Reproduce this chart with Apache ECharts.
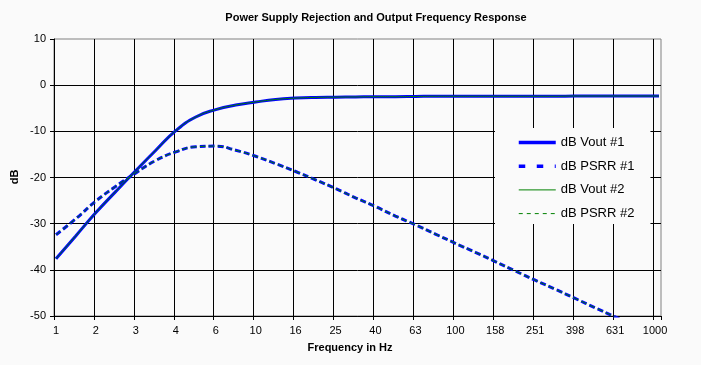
<!DOCTYPE html>
<html>
<head>
<meta charset="utf-8">
<script src="https://cdn.jsdelivr.net/npm/echarts@6/dist/echarts.min.js"></script>
<style>
html,body{margin:0;padding:0;background:#fafafa;}
#chart{width:701px;height:365px;}
</style>
</head>
<body>
<div id="chart"></div>
<script>
// ---- data ----
const tickLabels = ['1','2','3','4','6','10','16','25','40','63','100','158','251','398','631','1000'];
const binsPerDecade = 50;      // category bins of the Excel axis (10 per label step)
const binCount = 152;
const freqHz = [1, 1.26, 1.58, 2.00, 2.51, 3.16, 3.98, 5.01, 6.31, 7.94,
                10.0, 12.6, 15.8, 20.0, 25.1, 31.6, 39.8, 50.1, 63.1, 79.4,
                100, 126, 158, 200, 251, 316, 398, 501, 631, 794, 1000, 1047];
const voutDb1 = [-37.6, -32.6, -27.6, -23.0, -18.5, -14.1, -9.85, -6.9, -5.3, -4.3,
                 -3.65, -3.1, -2.8, -2.65, -2.6, -2.55, -2.5, -2.5, -2.45, -2.4,
                 -2.4, -2.4, -2.4, -2.4, -2.4, -2.4, -2.35, -2.35, -2.35, -2.35, -2.35, -2.35];
const psrrDb1 = [-32.4, -28.9, -25.1, -21.9, -19.0, -16.3, -14.45, -13.35, -13.2, -14.1,
                 -15.4, -17.0, -18.7, -20.5, -22.4, -24.4, -26.3, -28.35, -30.25, -32.25,
                 -34.25, -36.2, -38.2, -40.25, -42.25, -44.2, -46.2, -48.2, -50.2, -52.2, -54.2, -54.6];
const voutDb2 = [-37.6, -32.6, -27.6, -23.0, -18.5, -14.1, -9.85, -6.9, -5.3, -4.3,
                 -3.65, -3.1, -2.8, -2.65, -2.6, -2.55, -2.5, -2.5, -2.45, -2.4,
                 -2.4, -2.4, -2.4, -2.4, -2.4, -2.4, -2.35, -2.35, -2.35, -2.35, -2.35, -2.35];
const psrrDb2 = [-32.4, -28.9, -25.1, -21.9, -19.0, -16.3, -14.45, -13.35, -13.2, -14.1,
                 -15.4, -17.0, -18.7, -20.5, -22.4, -24.4, -26.3, -28.35, -30.25, -32.25,
                 -34.25, -36.2, -38.2, -40.25, -42.25, -44.2, -46.2, -48.2, -50.2, -52.2, -54.2, -54.6];
const seriesNames = ['dB Vout #1', 'dB PSRR #1', 'dB Vout #2', 'dB PSRR #2'];

// ---- build ----
const categories = Array.from({length: binCount}, (_, i) => i % 10 === 0 ? tickLabels[i / 10] : '');
const toPairs = vals => vals.map((v, i) => [Math.round(binsPerDecade * Math.log10(freqHz[i])), v]);

const FONT = '"Liberation Sans", Arial, sans-serif';
const BLUE = '#0000ff', GREEN = '#008000';

const chart = echarts.init(document.getElementById('chart'), null, {renderer: 'canvas'});
chart.setOption({
  backgroundColor: '#fafafa',
  animation: false,
  grid: {left: 54, top: 39, right: 40, bottom: 49, show: true, backgroundColor: '#fafafa',
         borderColor: '#808080', borderWidth: 1, containLabel: false},
  xAxis: {
    type: 'category', data: categories, boundaryGap: true,
    axisLine: {show: true, onZero: false, lineStyle: {color: '#000', width: 1}},
    axisTick: {show: true, interval: 9, length: 4, lineStyle: {color: '#000'}},
    axisLabel: {interval: 9, color: '#000', fontSize: 11, fontFamily: FONT, margin: 9},
    splitLine: {show: true, interval: 9, showMaxLine: false, lineStyle: {color: '#000', width: 1}}
  },
  yAxis: {
    type: 'value', min: -50, max: 10, interval: 10,
    axisLine: {show: true, lineStyle: {color: '#000', width: 1}},
    axisTick: {show: true, length: 4, lineStyle: {color: '#000'}},
    axisLabel: {color: '#000', fontSize: 11, fontFamily: FONT, margin: 8},
    splitLine: {show: true, showMaxLine: false, lineStyle: {color: '#000', width: 1}}
  },
  legend: {
    orient: 'vertical', left: 495, top: 128,
    padding: [8, 16, 4, 22],
    backgroundColor: '#fafafa',
    itemWidth: 37, itemHeight: 14, itemGap: 10.7,
    itemStyle: {color: 'rgba(0,0,0,0)', borderWidth: 0, borderColor: 'rgba(0,0,0,0)'},
    textStyle: {color: '#000', fontSize: 13, fontFamily: FONT},
    data: [
      {name: seriesNames[0], lineStyle: {color: BLUE, width: 3.5, type: 'solid'}},
      {name: seriesNames[1], lineStyle: {color: BLUE, width: 3.5, type: [6.5, 11.5]}},
      {name: seriesNames[2], lineStyle: {color: GREEN, width: 1, type: 'solid'}},
      {name: seriesNames[3], lineStyle: {color: GREEN, width: 1, type: [4, 4]}}
    ]
  },
  graphic: [
    {type: 'text', z: 10, style: {text: 'Power Supply Rejection and Output Frequency Response',
      x: 376, y: 18, align: 'center', verticalAlign: 'middle', font: 'bold 11px ' + FONT, fill: '#000'}},
    {type: 'text', z: 10, style: {text: 'Frequency in Hz',
      x: 350, y: 348, align: 'center', verticalAlign: 'middle', font: 'bold 11px ' + FONT, fill: '#000'}},
    {type: 'text', z: 10, x: 15, y: 177, rotation: Math.PI / 2, style: {text: 'dB',
      x: 0, y: 0, align: 'center', verticalAlign: 'middle', font: 'bold 11px ' + FONT, fill: '#000'}}
  ],
  series: [
    {name: seriesNames[0], type: 'line', data: toPairs(voutDb1), symbol: 'none', smooth: true,
     lineStyle: {color: BLUE, width: 3}, itemStyle: {color: BLUE}},
    {name: seriesNames[1], type: 'line', data: toPairs(psrrDb1), symbol: 'none', smooth: true,
     lineStyle: {color: BLUE, width: 3, type: [6, 3]}, itemStyle: {color: BLUE}},
    {name: seriesNames[2], type: 'line', data: toPairs(voutDb2), symbol: 'none', smooth: true,
     lineStyle: {color: GREEN, width: 1}, itemStyle: {color: GREEN}},
    {name: seriesNames[3], type: 'line', data: toPairs(psrrDb2), symbol: 'none', smooth: true,
     lineStyle: {color: GREEN, width: 1, type: [6, 3]}, itemStyle: {color: GREEN}}
  ]
});
</script>
</body>
</html>
